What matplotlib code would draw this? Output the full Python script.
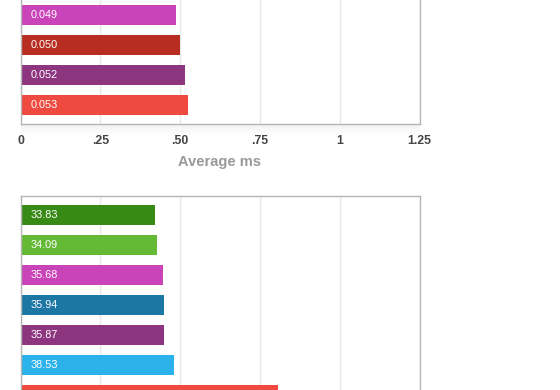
import numpy as np
import matplotlib.pyplot as plt

# top chart: average ms
top_values = [0.487, 0.500, 0.515, 0.525]
top_labels = ["0.049", "0.050", "0.052", "0.053"]
top_colors = ["#C944B8", "#B82D22", "#8E3580", "#EF4A3F"]
top_ticks = [0, 0.25, 0.5, 0.75, 1, 1.25]
top_ticklabels = ["0", ".25", ".50", ".75", "1", "1.25"]

# bottom chart (last bar's label is off the picture)
bot_values = [33.83, 34.09, 35.68, 35.94, 35.87, 38.53, 64.5]
bot_labels = ["33.83", "34.09", "35.68", "35.94", "35.87", "38.53"]
bot_colors = ["#378A14", "#64BA35", "#C944B8", "#1D77A5", "#8E3580", "#2BB2EA", "#EF4A3F"]
bot_ticks = [0, 20, 40, 60, 80, 100]

W, H = 560, 390
fig = plt.figure(figsize=(W / 100, H / 100), dpi=100)
plt.rcParams['font.family'] = ['Liberation Sans', 'DejaVu Sans']

SPINE = "#b5b5b5"
GRID = "#e8e8e8"
SLOT = 30.0  # px per bar slot
PAD = 4.0


def px_rect(left, top, right, bottom):
    return [left / W, (H - bottom) / H, (right - left) / W, (bottom - top) / H]


def style(ax, xmax, ticks):
    ax.set_xlim(0, xmax)
    ax.set_xticks(ticks)
    ax.grid(axis="x", color=GRID, linewidth=1)
    ax.set_axisbelow(True)
    ax.set_yticks([])
    for s in ax.spines.values():
        s.set_color(SPINE)
        s.set_linewidth(1)
    ax.tick_params(axis="x", length=0)


def draw_bars(ax, values, labels, colors):
    y = np.arange(len(values))
    ax.barh(y, values, height=20 / SLOT, color=colors)
    for yi, v, lab in zip(y, values, labels):
        ax.annotate(lab, (0, yi), xytext=(7.6, 0), textcoords="offset points",
                    ha="left", va="center", color="white", fontsize=7.8)


# top axes: bottom spine at y=124, extends above the figure
ax1 = fig.add_axes(px_rect(20.5, -PAD, 419.5, 124))
draw_bars(ax1, top_values, top_labels, top_colors)
ymax = len(top_values) - 0.5 + PAD / SLOT
ax1.set_ylim(ymax, ymax - (124 + PAD) / SLOT)
style(ax1, 1.25, top_ticks)
ax1.set_xticklabels(top_ticklabels)
ax1.tick_params(axis="x", pad=8, labelsize=8.8, labelcolor="#444444")
for t in ax1.get_xticklabels():
    t.set_fontweight("bold")
ax1.set_xlabel("Average ms", fontsize=10.5, fontweight="bold", color="#999999", labelpad=6)

# soft shadow under the top chart
sh = fig.add_axes(px_rect(20.5, 124.5, 419.5, 136))
grad = np.linspace(0.10, 0, 50).reshape(-1, 1)
rgba = np.zeros((50, 1, 4))
rgba[..., :3] = 0.5
rgba[..., 3] = grad
sh.imshow(rgba, aspect="auto", extent=[0, 1, 0, 1])
sh.axis("off")

# bottom axes: top spine at y=196, extends below the figure
ax2 = fig.add_axes(px_rect(20.5, 196, 419.5, 196 + 260))
draw_bars(ax2, bot_values, bot_labels, bot_colors)
ytop = -0.5 - PAD / SLOT
ax2.set_ylim(ytop + 260 / SLOT, ytop)
style(ax2, 100, bot_ticks)
ax2.set_xticklabels([])

fig.savefig("out.png", dpi=100)
